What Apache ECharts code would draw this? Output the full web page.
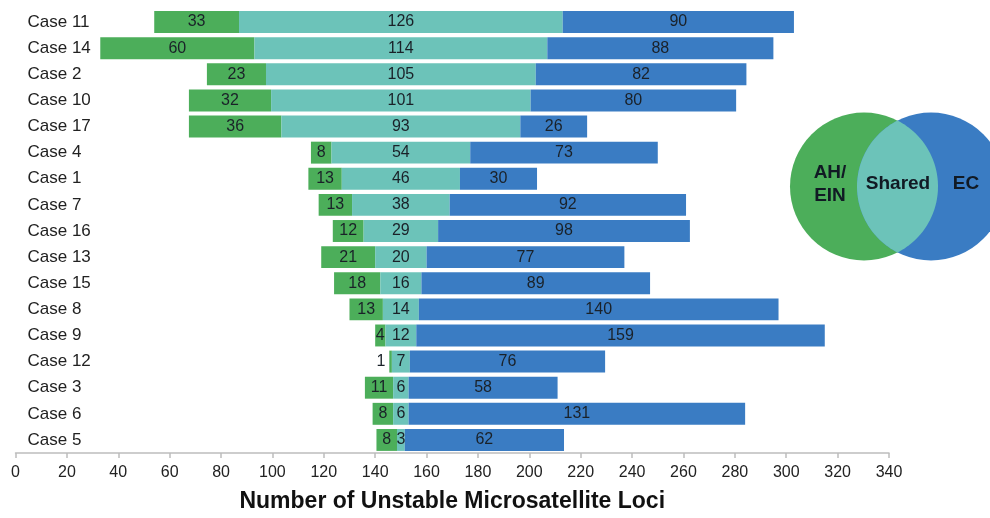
<!DOCTYPE html>
<html>
<head>
<meta charset="utf-8">
<script src="https://cdn.jsdelivr.net/npm/echarts@6/dist/echarts.min.js"></script>
<style>
  html, body { margin: 0; padding: 0; background: #fff; }
  #chart { width: 990px; height: 518px; }
</style>
</head>
<body>
<div id="chart"></div>
<script>
// Loci counts per case: AH/EIN-only, shared, EC-only
const cases = ['Case 11','Case 14','Case 2','Case 10','Case 17','Case 4','Case 1','Case 7','Case 16','Case 13','Case 15','Case 8','Case 9','Case 12','Case 3','Case 6','Case 5'];
const ahEin  = [33, 60, 23, 32, 36, 8, 13, 13, 12, 21, 18, 13, 4, 1, 11, 8, 8];
const shared = [126, 114, 105, 101, 93, 54, 46, 38, 29, 20, 16, 14, 12, 7, 6, 6, 3];
const ec     = [90, 88, 82, 80, 26, 73, 30, 92, 98, 77, 89, 140, 159, 76, 58, 131, 62];
const xTicks = { min: 0, max: 340, interval: 20 };

// Shared block is centred on this value; the AH/EIN block sits to its left
const centre = 150;
const offset = cases.map((c, i) => centre - shared[i] / 2 - ahEin[i]);

const GREEN = '#4cae5a';
const TEAL = '#6cc3b9';
const BLUE = '#3a7cc3';
const TXT = '#1a2128';
const FONT = '"Liberation Sans", Arial, sans-serif';

const segLabel = { show: true, position: 'inside', color: TXT, fontSize: 16, fontFamily: FONT };

const chart = echarts.init(document.getElementById('chart'));

// Venn key geometry: two circles and the lens where they overlap
const cy = 186.5, r = 74, gx = 864, bx = 931;
const half = (bx - gx) / 2;
const a0 = Math.acos(half / r);
const lens = [];
const N = 60;
for (let k = 0; k <= N; k++) {           // right arc of the green circle
  const t = -a0 + (2 * a0 * k) / N;
  lens.push([gx + r * Math.cos(t), cy + r * Math.sin(t)]);
}
for (let k = 0; k <= N; k++) {           // left arc of the blue circle
  const t = Math.PI - a0 + (2 * a0 * k) / N;
  lens.push([bx + r * Math.cos(t), cy + r * Math.sin(t)]);
}

const vennFont = 'bold 19px ' + FONT;
const vennInk = '#111a24';

chart.setOption({
  animation: false,
  grid: { left: 15.5, right: 101, top: 9, bottom: 60.5 },
  xAxis: {
    type: 'value',
    min: xTicks.min, max: xTicks.max, interval: xTicks.interval,
    splitLine: { show: false },
    axisLine: { show: true, lineStyle: { color: '#bdbdbd', width: 1.5 } },
    axisTick: { show: true, length: 5, lineStyle: { color: '#bdbdbd', width: 1.5 } },
    axisLabel: { color: '#222', fontSize: 16, fontFamily: FONT, margin: 12 },
    name: 'Number of Unstable Microsatellite Loci',
    nameLocation: 'middle',
    nameGap: 37,
    nameTextStyle: { color: '#111', fontSize: 23, fontWeight: 'bold', fontFamily: FONT }
  },
  yAxis: {
    type: 'category',
    data: cases,
    inverse: true,
    axisLine: { show: false },
    axisTick: { show: false },
    axisLabel: { inside: true, margin: 12, color: '#222', fontSize: 17, fontFamily: FONT }
  },
  series: [
    {
      name: 'base', type: 'bar', stack: 'loci', data: offset,
      itemStyle: { color: 'rgba(0,0,0,0)' }, silent: true,
      barCategoryGap: '16%'
    },
    {
      name: 'AH/EIN', type: 'bar', stack: 'loci',
      data: ahEin.map(v => v <= 2
        ? { value: v, label: { position: 'left', distance: 4 } }
        : v),
      itemStyle: { color: GREEN },
      label: segLabel
    },
    {
      name: 'Shared', type: 'bar', stack: 'loci', data: shared,
      itemStyle: { color: TEAL },
      label: segLabel
    },
    {
      name: 'EC', type: 'bar', stack: 'loci', data: ec,
      itemStyle: { color: BLUE },
      label: segLabel
    }
  ],
  graphic: [
    { type: 'circle', shape: { cx: gx, cy: cy, r: r }, style: { fill: GREEN } },
    { type: 'circle', shape: { cx: bx, cy: cy, r: r }, style: { fill: BLUE } },
    { type: 'polygon', shape: { points: lens }, style: { fill: TEAL } },
    { type: 'text', x: 830, y: 184, style: { text: 'AH/\nEIN', fill: vennInk, font: vennFont, align: 'center', verticalAlign: 'middle', lineHeight: 23 } },
    { type: 'text', x: 898, y: 184, style: { text: 'Shared', fill: vennInk, font: vennFont, align: 'center', verticalAlign: 'middle' } },
    { type: 'text', x: 966, y: 184, style: { text: 'EC', fill: vennInk, font: vennFont, align: 'center', verticalAlign: 'middle' } }
  ]
});
</script>
</body>
</html>
